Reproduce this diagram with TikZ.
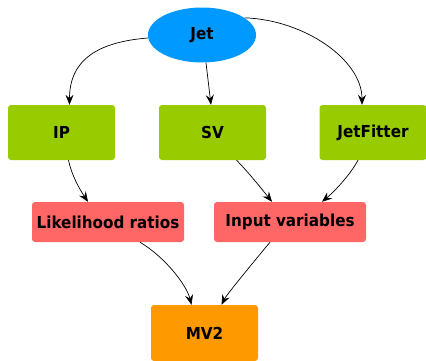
\documentclass[tikz,border=0pt]{standalone}
\usepackage{fontspec}
\setmainfont{DejaVu Sans}[FakeStretch=0.92]
\usetikzlibrary{arrows.meta,shapes.geometric}
\definecolor{jetblue}{HTML}{0099FF}
\definecolor{boxgreen}{HTML}{99CC00}
\definecolor{boxred}{HTML}{FF6666}
\definecolor{boxorange}{HTML}{FF9900}
\begin{document}
\begin{tikzpicture}[x=1pt,y=-1pt,
  lbl/.style={font=\fontsize{16.5}{19}\selectfont\bfseries, text=black},
  ellnode/.style={ellipse, fill=jetblue, minimum width=108pt, minimum height=55pt, inner sep=0pt, lbl},
  greenbox/.style={rectangle, rounded corners=3pt, fill=boxgreen, minimum width=107pt, minimum height=55pt, inner sep=0pt, lbl},
  redbox/.style={rectangle, rounded corners=3pt, fill=boxred, minimum width=152pt, minimum height=40pt, inner sep=0pt, lbl},
  orangebox/.style={rectangle, rounded corners=3pt, fill=boxorange, minimum width=107pt, minimum height=56pt, inner sep=0pt, lbl},
  arr/.style={draw=black, line width=0.7pt, -{Stealth[length=10pt,width=8pt,inset=3.5pt]}}
]
\useasboundingbox (0,0) rectangle (426,360);
\node[ellnode] (jet) at (202,35) {Jet};
\node[greenbox] (ip) at (61.5,132.5) {IP};
\node[greenbox] (sv) at (212.5,132.5) {SV};
\node[greenbox] (jf) at (373,132.5) {JetFitter};
\node[redbox] (lr) at (108,222) {Likelihood ratios};
\node[redbox] (iv) at (290,222) {Input variables};
\node[orangebox] (mv) at (204.5,333) {MV2};

\draw[arr] ([yshift=-3pt]jet.west) .. controls +(-50,4) and +(0,-45) .. ([xshift=8pt]ip.north);
\draw[arr] ([xshift=4pt]jet.south) -- ([xshift=-1.5pt]sv.north);
\draw[arr] (jet.22) .. controls +(60,2) and +(0,-45) .. ([xshift=-11pt]jf.north);
\draw[arr] ([xshift=7pt]ip.south) .. controls +(3,15) and +(-8,-12) .. ([xshift=-20pt]lr.north);
\draw[arr] ([xshift=24pt]sv.south) .. controls +(12,12) and +(-8,-10) .. ([xshift=-18pt]iv.north);
\draw[arr] ([xshift=-15pt]jf.south) .. controls +(-8,15) and +(12,-10) .. ([xshift=32pt]iv.north);
\draw[arr] ([xshift=32pt]lr.south) .. controls +(25,15) and +(-5,-20) .. ([xshift=-13pt]mv.north);
\draw[arr] ([xshift=-20pt]iv.south) .. controls +(-15,18) and +(5,-10) .. ([xshift=17pt]mv.north);
\end{tikzpicture}
\end{document}
